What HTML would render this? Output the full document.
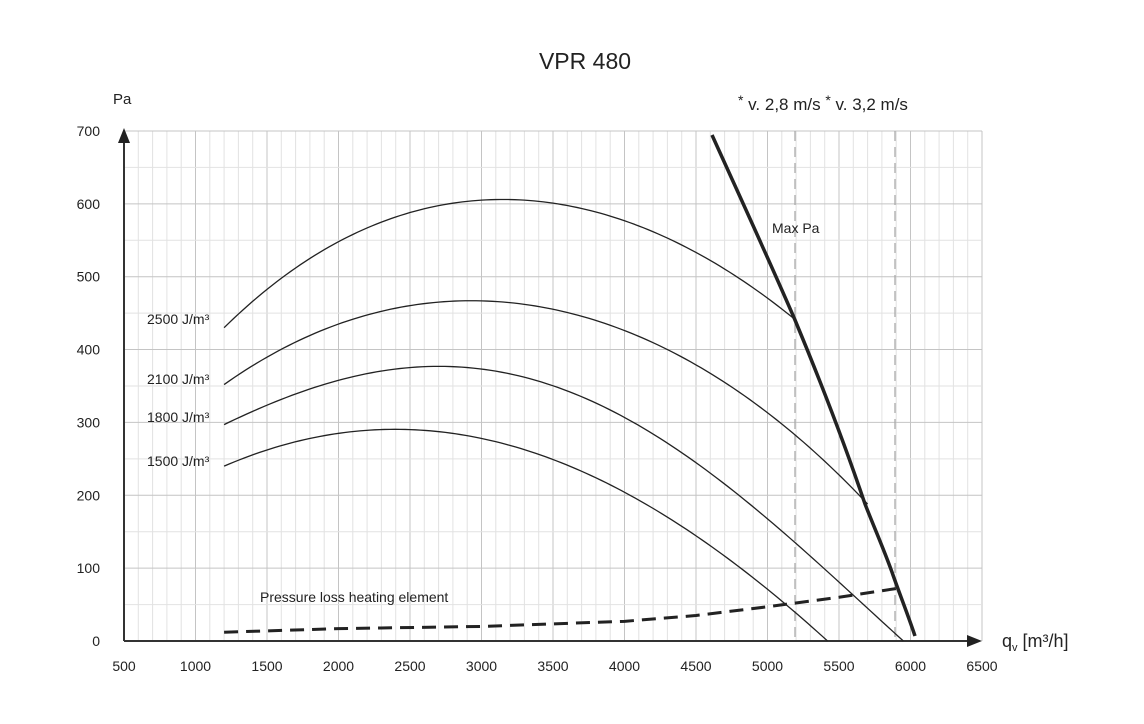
<!DOCTYPE html>
<html><head><meta charset="utf-8"><style>
body{margin:0;background:#fff;}
svg{display:block;font-family:"Liberation Sans","DejaVu Sans",sans-serif;}
</style></head><body>
<svg id="s" width="1144" height="724" viewBox="0 0 1144 724" xmlns="http://www.w3.org/2000/svg">
<g id="grid"></g>
<g id="curves"></g>
<text x="585" y="69" font-size="23" text-anchor="middle" fill="#222">VPR 480</text>
<text x="113" y="104" font-size="15" fill="#222">Pa</text>
<text x="738" y="110" font-size="17" fill="#222"><tspan font-size="14" dy="-5">*</tspan><tspan dy="5"> v. 2,8 m/s </tspan><tspan font-size="14" dy="-5">*</tspan><tspan dy="5"> v. 3,2 m/s</tspan></text>
<text x="772" y="233" font-size="14" fill="#222">Max Pa</text>
<text x="260" y="602" font-size="14" fill="#222">Pressure loss heating element</text>
<text x="147" y="324" font-size="14" fill="#222">2500 J/m³</text>
<text x="147" y="384" font-size="14" fill="#222">2100 J/m³</text>
<text x="147" y="422" font-size="14" fill="#222">1800 J/m³</text>
<text x="147" y="466" font-size="14" fill="#222">1500 J/m³</text>
<text x="1002" y="647" font-size="18" fill="#222">q<tspan font-size="11" dy="4">v</tspan><tspan dy="-4"> [m³/h]</tspan></text>
</svg>
<script>
const X=v=>124+(v-500)*0.143, Y=v=>641-v*0.7286;
const ns="http://www.w3.org/2000/svg";
const g=document.getElementById('grid'), c=document.getElementById('curves');
function el(p,tag,a,txt){const e=document.createElementNS(ns,tag);for(const k in a)e.setAttribute(k,a[k]);if(txt)e.textContent=txt;p.appendChild(e);return e;}
for(let v=600;v<=6500;v+=100){const x=X(v);el(g,'line',{x1:x,x2:x,y1:131,y2:641,stroke:v%500==0?'#c4c4c4':'#e2e2e2','stroke-width':1});}
for(let v=50;v<=700;v+=50){const y=Y(v);el(g,'line',{x1:124,x2:982,y1:y,y2:y,stroke:v%100==0?'#c4c4c4':'#e2e2e2','stroke-width':1});}
for(let v=500;v<=6500;v+=500)el(g,'text',{x:X(v),y:671,'font-size':14,'text-anchor':'middle',fill:'#222'},String(v));
for(let v=0;v<=700;v+=100)el(g,'text',{x:100,y:Y(v)+5,'font-size':14,'text-anchor':'end',fill:'#222'},String(v));
[795,895].forEach(x=>el(g,'line',{x1:x,x2:x,y1:131,y2:641,stroke:'#aaa','stroke-width':1.3,'stroke-dasharray':'10,6'}));
el(g,'line',{x1:124,x2:124,y1:641,y2:138,stroke:'#333','stroke-width':2});
el(g,'path',{d:'M124,128 L118,143 L130,143 Z',fill:'#222'});
el(g,'line',{x1:124,x2:972,y1:641,y2:641,stroke:'#333','stroke-width':2});
el(g,'path',{d:'M982,641 L967,635 L967,647 Z',fill:'#222'});
function lag(pts){const n=pts.length,a=pts[0][0],b=pts[n-1][0];let d='';
for(let k=0;k<=120;k++){const x=a+(b-a)*k/120;let y=0;
for(let i=0;i<n;i++){let t=pts[i][1];for(let j=0;j<n;j++)if(j!=i)t*=(x-pts[j][0])/(pts[i][0]-pts[j][0]);y+=t;}
d+=(k?'L':'M')+X(x).toFixed(2)+','+Y(y).toFixed(2);}return d;}
const curves=[
[[1200,430],[2000,548],[3150,606],[4300,553],[5200,440]],
[[1200,352],[2000,435],[2950,467],[4300,400],[5700,188]],
[[1200,297],[2200,367],[3300,362],[4800,200],[5950,0]],
[[1200,240],[2000,285],[3000,278],[4300,170],[5420,0]]];
curves.forEach(p=>el(c,'path',{d:lag(p),fill:'none',stroke:'#222','stroke-width':1.3}));
const dl=[[1200,12],[2000,17],[3000,20],[4000,27],[4500,35],[5000,47],[5500,60],[5900,72]];
el(c,'path',{d:'M'+dl.map(p=>X(p[0])+','+Y(p[1])).join(' L'),fill:'none',stroke:'#222','stroke-width':3,'stroke-dasharray':'14,8'});
el(c,'path',{d:'M712,135 C740,197 770,262 795,320 C820,380 845,445 865,504 C876,532 885,552 893,575 C900,595 908,615 915,636',fill:'none',stroke:'#222','stroke-width':3.5,'stroke-linejoin':'round'});
</script>
</body></html>
